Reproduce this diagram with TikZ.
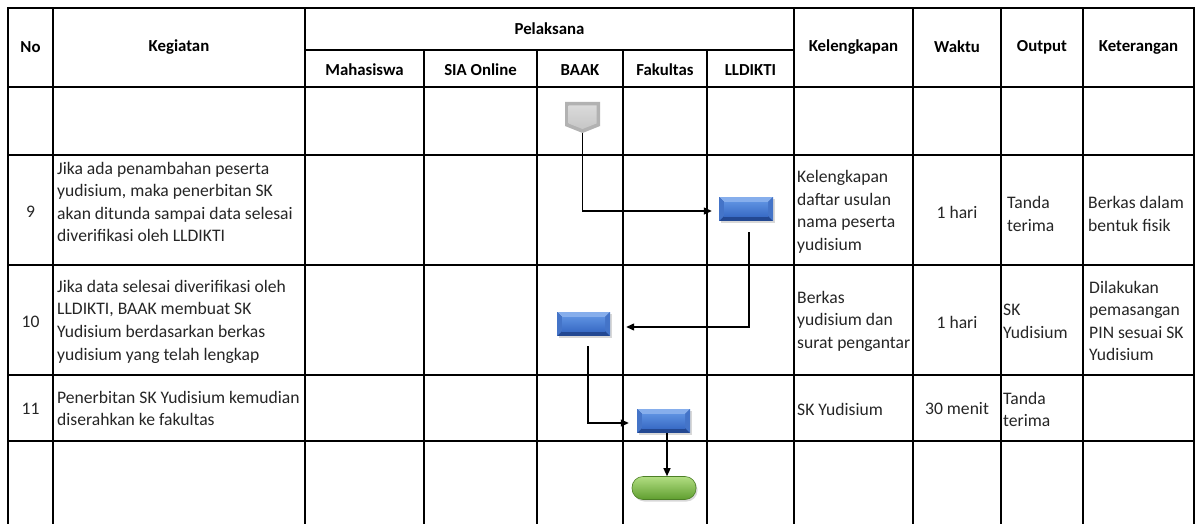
\documentclass[tikz,border=0pt]{standalone}
\usepackage{fontspec}
\setmainfont{Carlito}
\usetikzlibrary{arrows.meta,shadows}
\definecolor{bluelight}{HTML}{86AEEC}
\definecolor{bluetop}{HTML}{5C90E0}
\definecolor{bluebot}{HTML}{3A6CC6}
\definecolor{bluedark}{HTML}{234892}
\definecolor{blueside}{HTML}{4474C8}
\definecolor{greentop}{HTML}{B2DE82}
\definecolor{greenbot}{HTML}{5F9E2F}
\definecolor{greendark}{HTML}{4C7F26}
\definecolor{graydark}{HTML}{B2B2B2}
\definecolor{graylight}{HTML}{DADADA}
\definecolor{graymid}{HTML}{C6C6C6}
\tikzset{
  grid/.style={line width=1.6pt, black},
  txt/.style={inner sep=0pt, font=\fontsize{17.6}{22.6}\selectfont, align=left, text=black!85},
  ctxt/.style={inner sep=0pt, font=\fontsize{17.6}{22.6}\selectfont, align=center, text=black!85},
  hdr/.style={inner sep=0pt, font=\fontsize{16.8}{22.6}\selectfont\bfseries, align=center},
  conn/.style={line width=1.3pt, -{Triangle[length=8pt,width=7pt]}},
  procbox/.style={rectangle, minimum width=54pt, minimum height=24pt, inner sep=0pt,
    fill=bluedark, drop shadow={shadow xshift=1.5pt, shadow yshift=-2pt, opacity=0.3},
    path picture={
      \fill[bluelight] (path picture bounding box.north west) -- (path picture bounding box.north east)
        -- ([xshift=-5pt,yshift=-5pt]path picture bounding box.north east)
        -- ([xshift=5pt,yshift=-5pt]path picture bounding box.north west) -- cycle;
      \fill[blueside] (path picture bounding box.north west) -- ([xshift=5pt,yshift=-5pt]path picture bounding box.north west)
        -- ([xshift=5pt,yshift=5pt]path picture bounding box.south west) -- (path picture bounding box.south west) -- cycle;
      \fill[blueside] (path picture bounding box.north east) -- ([xshift=-5pt,yshift=-5pt]path picture bounding box.north east)
        -- ([xshift=-5pt,yshift=5pt]path picture bounding box.south east) -- (path picture bounding box.south east) -- cycle;
      \shade[top color=bluetop, bottom color=bluebot] ([xshift=5pt,yshift=-5pt]path picture bounding box.north west)
        rectangle ([xshift=-5pt,yshift=5pt]path picture bounding box.south east);
    }},
  termbox/.style={rectangle, rounded corners=11pt, minimum width=64pt, minimum height=23pt, inner sep=0pt,
    draw=greendark, line width=0.6pt, top color=greentop, bottom color=greenbot,
    drop shadow={shadow xshift=1.5pt, shadow yshift=-2pt, opacity=0.3}}
}
\begin{document}
\begin{tikzpicture}[x=1pt,y=-1pt]
\fill[white] (0,0) rectangle (1196,524);
\useasboundingbox (0,0) rectangle (1196,524);
% grid
\foreach \x in {8,53,305,794,913,1001,1083,1194} \draw[grid] (\x,7.2) -- (\x,524);
\foreach \x in {424,537,623,707} \draw[grid] (\x,50) -- (\x,524);
\foreach \y in {8,87,155,265,375,441} \draw[grid] (7.2,\y) -- (1194.8,\y);
\draw[grid] (305,50) -- (794,50);
% headers
\node[hdr] (hno) at (30.5,47) {No};
\node[hdr] (hkeg) at (179,47) {Kegiatan};
\node[hdr] (hpel) at (549.5,29) {Pelaksana};
\node[hdr] (hmhs) at (364.5,70) {Mahasiswa};
\node[hdr] (hsia) at (480.5,70) {SIA Online};
\node[hdr] (hbaak) at (580,70) {BAAK};
\node[hdr] (hfak) at (665,70) {Fakultas};
\node[hdr] (hlld) at (750.5,70) {LLDIKTI};
\node[hdr] (hkel) at (853.5,47) {Kelengkapan};
\node[hdr] (hwak) at (957,47) {Waktu};
\node[hdr] (hout) at (1042,47) {Output};
\node[hdr] (hket) at (1138.5,47) {Keterangan};
% row 9
\node[ctxt] (n9) at (30.5,212) {9};
\node[txt,anchor=west] (k9) at (57,202) {Jika ada penambahan peserta\\yudisium, maka penerbitan SK\\akan ditunda sampai data selesai\\diverifikasi oleh LLDIKTI};
\node[txt,anchor=west] (l9) at (797,212) {Kelengkapan\\daftar usulan\\nama peserta\\yudisium};
\node[ctxt] (w9) at (957,212) {1 hari};
\node[txt,anchor=west] (o9) at (1007,214) {Tanda\\terima};
\node[txt,anchor=west] (t9) at (1088,214) {Berkas dalam\\bentuk fisik};
% row 10
\node[ctxt] (n10) at (30.5,322) {10};
\node[txt,anchor=west] (k10) at (57,321.5) {Jika data selesai diverifikasi oleh\\LLDIKTI, BAAK membuat SK\\Yudisium berdasarkan berkas\\yudisium yang telah lengkap};
\node[txt,anchor=west] (l10) at (797,321) {Berkas\\yudisium dan\\surat pengantar};
\node[ctxt] (w10) at (957,322) {1 hari};
\node[txt,anchor=west] (o10) at (1003,321.5) {SK\\Yudisium};
\node[txt,anchor=west] (t10) at (1089,321) {Dilakukan\\pemasangan\\PIN sesuai SK\\Yudisium};
% row 11
\node[ctxt] (n11) at (30.5,409) {11};
\node[txt,anchor=west] (k11) at (57,408.5) {Penerbitan SK Yudisium kemudian\\diserahkan ke fakultas};
\node[txt,anchor=west] (l11) at (797,409) {SK Yudisium};
\node[ctxt] (w11) at (957,409) {30 menit};
\node[txt,anchor=west] (o11) at (1003,409.5) {Tanda\\terima};
% start off-page connector
\fill[graydark] (565,102) -- (600,102) -- (600,126) -- (582.5,133) -- (565,126) -- cycle;
\shade[top color=graylight, bottom color=graymid] (568.5,105.5) -- (596.5,105.5) -- (596.5,123.5) -- (582.5,129) -- (568.5,123.5) -- cycle;
\coordinate (s0) at (582.5,133);
% process boxes
\node[procbox] (p1) at (746,209) {};
\node[procbox, minimum width=53pt] (p2) at (583.5,324) {};
\node[procbox, minimum width=53pt] (p3) at (663.5,421) {};
\node[termbox] (e1) at (664,488) {};
% connectors
\draw[conn, shorten >=7pt] (s0) |- ([yshift=-2pt]p1.west);
\draw[conn, shorten <=11pt, shorten >=16pt] ([xshift=3pt]p1.south) |- ([yshift=-3pt]p2.east);
\draw[conn, shorten <=10pt, shorten >=8pt] ([xshift=4.5pt]p2.south) |- ([yshift=-2pt]p3.west);
\draw[conn] ([xshift=3.5pt]p3.south) -- ([xshift=3.5pt]p3.south |- e1.north);
\end{tikzpicture}
\end{document}
